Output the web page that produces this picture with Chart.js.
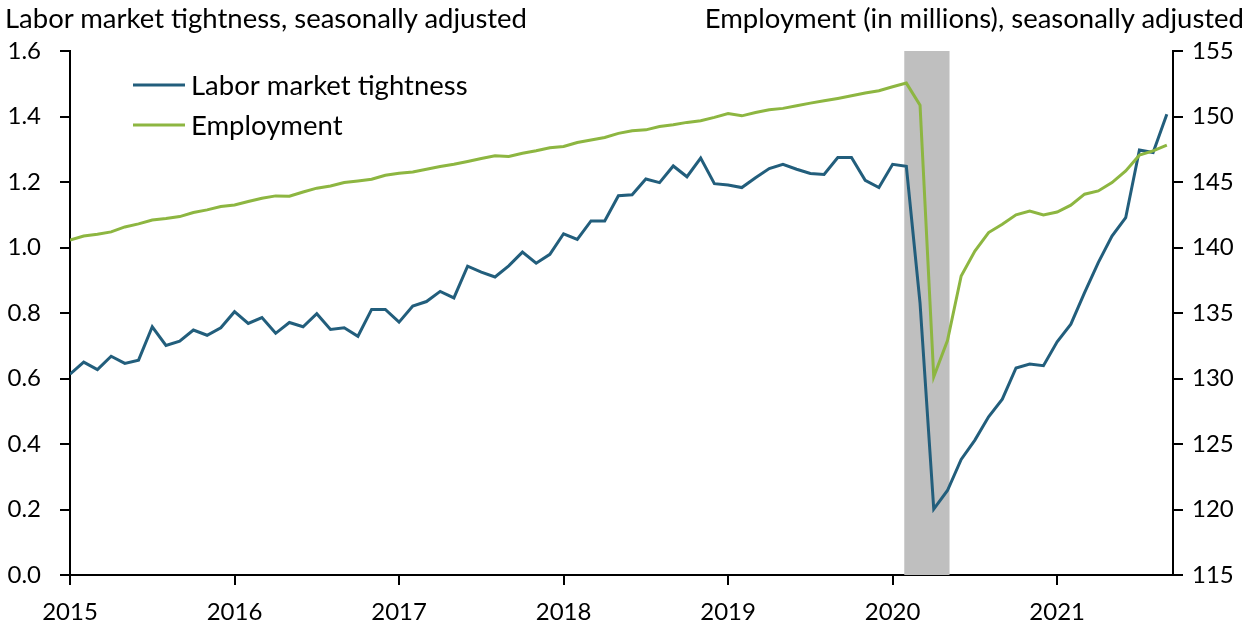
<!DOCTYPE html>
<html>
<head>
<meta charset="utf-8">
<script src="https://cdn.jsdelivr.net/npm/chart.js@4.4.1/dist/chart.umd.min.js"></script>
<style>
  html, body { margin: 0; padding: 0; background: #fff; }
  #wrap { position: relative; width: 1246px; height: 627px; }
  .axis-title { position: absolute; top: 0px; font-family: Lato, "Open Sans", sans-serif; font-size: 27.5px; line-height: 36px; color: #000; white-space: nowrap; }
  #leftTitle { left: 5px; }
  #rightTitle { right: 2px; }
</style>
</head>
<body>
<div id="wrap">
  <canvas id="chart" width="1246" height="627"></canvas>
  <div class="axis-title" id="leftTitle">Labor market tightness, seasonally adjusted</div>
  <div class="axis-title" id="rightTitle">Employment (in millions), seasonally adjusted</div>
</div>
<script>
// monthly data, Jan 2015 .. Sep 2021
const years = ['2015', '2016', '2017', '2018', '2019', '2020', '2021'];

const tightness = [
    0.613, 0.650, 0.627, 0.668, 0.646, 0.656, 0.758, 0.701, 0.714, 0.748, 0.732, 0.755,
    0.804, 0.768, 0.786, 0.738, 0.771, 0.758, 0.798, 0.750, 0.755, 0.729, 0.811, 0.811,
    0.772, 0.821, 0.835, 0.866, 0.846, 0.943, 0.925, 0.910, 0.944, 0.986, 0.952, 0.979,
    1.042, 1.025, 1.081, 1.081, 1.158, 1.161, 1.209, 1.198, 1.249, 1.216, 1.273, 1.195,
    1.191, 1.183, 1.213, 1.241, 1.254, 1.239, 1.226, 1.223, 1.275, 1.275, 1.205, 1.183,
    1.254, 1.248, 0.830, 0.201, 0.258, 0.353, 0.412, 0.483, 0.537, 0.632, 0.644, 0.639,
    0.712, 0.766, 0.862, 0.954, 1.035, 1.091, 1.298, 1.290, 1.407
];

const employment = [
    140.57, 140.88, 141.01, 141.19, 141.57, 141.80, 142.10, 142.21, 142.36, 142.67, 142.87, 143.13,
    143.25, 143.51, 143.76, 143.94, 143.92, 144.24, 144.53, 144.70, 144.96, 145.08, 145.21, 145.52,
    145.67, 145.77, 145.98, 146.18, 146.36, 146.57, 146.80, 147.00, 146.95, 147.20, 147.38, 147.61,
    147.71, 148.02, 148.20, 148.40, 148.71, 148.91, 148.98, 149.24, 149.37, 149.55, 149.67, 149.93,
    150.22, 150.05, 150.31, 150.51, 150.62, 150.82, 151.02, 151.20, 151.38, 151.58, 151.79, 151.97,
    152.27, 152.55, 150.87, 130.13, 132.90, 137.82, 139.73, 141.14, 141.77, 142.49, 142.79, 142.49,
    142.71, 143.23, 144.07, 144.32, 144.96, 145.85, 147.05, 147.38, 147.81
];

// recession shading, in months since Jan 2015
const recession = [60.85, 64.15];

const FONT = 'Lato, "Open Sans", sans-serif';

const toPoints = arr => arr.map((v, i) => ({ x: i, y: v }));

const recessionBand = {
    id: 'recessionBand',
    beforeDatasetsDraw(chart) {
        const { ctx, chartArea, scales } = chart;
        const x0 = scales.x.getPixelForValue(recession[0]);
        const x1 = scales.x.getPixelForValue(recession[1]);
        ctx.save();
        ctx.fillStyle = '#bfbfbf';
        ctx.fillRect(x0, chartArea.top, x1 - x0, chartArea.bottom - chartArea.top);
        ctx.restore();
    }
};

const insideLegend = {
    id: 'insideLegend',
    afterDraw(chart) {
        const ctx = chart.ctx;
        const items = [chart.data.datasets[0], chart.data.datasets[1]];
        ctx.save();
        ctx.font = '27.5px ' + FONT;
        ctx.textBaseline = 'middle';
        items.forEach((ds, k) => {
            const y = 85 + k * 40;
            ctx.strokeStyle = ds.borderColor;
            ctx.lineWidth = 3;
            ctx.beginPath();
            ctx.moveTo(133, y);
            ctx.lineTo(185, y);
            ctx.stroke();
            ctx.fillStyle = '#000';
            ctx.fillText(ds.label, 191, y + 1);
        });
        ctx.restore();
    }
};

const axisGrid = { drawOnChartArea: false, tickLength: 10, color: '#000', lineWidth: 2 };
const axisBorder = { color: '#000', width: 2 };

new Chart(document.getElementById('chart').getContext('2d'), {
    type: 'line',
    data: {
        datasets: [{
            label: 'Labor market tightness',
            data: toPoints(tightness),
            yAxisID: 'y',
            borderColor: '#225e7c',
            borderWidth: 3,
            pointRadius: 0,
            order: 2
        }, {
            label: 'Employment',
            data: toPoints(employment),
            yAxisID: 'y2',
            borderColor: '#8db641',
            borderWidth: 3,
            pointRadius: 0,
            order: 1
        }]
    },
    options: {
        responsive: false,
        animation: false,
        layout: { padding: { top: 51, left: 0, right: 0, bottom: 0 } },
        plugins: {
            legend: { display: false },
            tooltip: { enabled: false }
        },
        scales: {
            x: {
                type: 'linear',
                min: 0,
                max: 80.45,
                afterBuildTicks: scale => { scale.ticks = years.map((y, k) => ({ value: k * 12 })); },
                afterFit: scale => { scale.height = 52; },
                ticks: {
                    autoSkip: false,
                    maxRotation: 0,
                    padding: 13,
                    color: '#000',
                    font: { family: FONT, size: 24 },
                    callback: v => years[Math.round(v / 12)]
                },
                grid: axisGrid,
                border: axisBorder
            },
            y: {
                position: 'left',
                min: 0,
                max: 1.6,
                afterFit: scale => { scale.width = 70; },
                ticks: {
                    stepSize: 0.2,
                    padding: 19,
                    color: '#000',
                    font: { family: FONT, size: 24 },
                    callback: v => v.toFixed(1)
                },
                grid: axisGrid,
                border: axisBorder
            },
            y2: {
                position: 'right',
                min: 115,
                max: 155,
                afterFit: scale => { scale.width = 73; },
                ticks: {
                    stepSize: 5,
                    padding: 9,
                    color: '#000',
                    font: { family: FONT, size: 24 }
                },
                grid: axisGrid,
                border: axisBorder
            }
        }
    },
    plugins: [recessionBand, insideLegend]
});
</script>
</body>
</html>
